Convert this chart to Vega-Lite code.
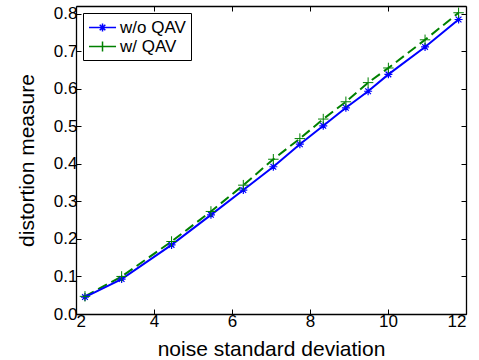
{
  "$schema": "https://vega.github.io/schema/vega-lite/v6.json",
  "width": 390,
  "height": 308,
  "autosize": "none",
  "padding": {"left": 76, "top": 6, "right": 13, "bottom": 46},
  "background": "white",
  "config": {
    "view": {"stroke": null},
    "font": "Liberation Sans",
    "axis": {
      "domainColor": "black",
      "domainWidth": 1.3,
      "tickColor": "black",
      "tickWidth": 1,
      "tickSize": -5,
      "grid": false,
      "labelFont": "Liberation Sans",
      "labelFontSize": 17,
      "labelColor": "black",
      "titleFont": "Liberation Sans",
      "titleFontSize": 21,
      "titleFontWeight": "normal",
      "titleColor": "black"
    }
  },
  "data": {
    "values": [
      {"series": "w/o QAV", "x": 2.23, "y": 0.045},
      {"series": "w/o QAV", "x": 3.17, "y": 0.093},
      {"series": "w/o QAV", "x": 4.45, "y": 0.184},
      {"series": "w/o QAV", "x": 5.46, "y": 0.264},
      {"series": "w/o QAV", "x": 6.29, "y": 0.330},
      {"series": "w/o QAV", "x": 7.06, "y": 0.392},
      {"series": "w/o QAV", "x": 7.74, "y": 0.452},
      {"series": "w/o QAV", "x": 8.34, "y": 0.501},
      {"series": "w/o QAV", "x": 8.92, "y": 0.549},
      {"series": "w/o QAV", "x": 9.49, "y": 0.593},
      {"series": "w/o QAV", "x": 10.01, "y": 0.638},
      {"series": "w/o QAV", "x": 10.95, "y": 0.711},
      {"series": "w/o QAV", "x": 11.81, "y": 0.784},
      {"series": "w/ QAV", "x": 2.23, "y": 0.047},
      {"series": "w/ QAV", "x": 3.17, "y": 0.100},
      {"series": "w/ QAV", "x": 4.45, "y": 0.193},
      {"series": "w/ QAV", "x": 5.46, "y": 0.273},
      {"series": "w/ QAV", "x": 6.29, "y": 0.343},
      {"series": "w/ QAV", "x": 7.06, "y": 0.412},
      {"series": "w/ QAV", "x": 7.74, "y": 0.467},
      {"series": "w/ QAV", "x": 8.34, "y": 0.519},
      {"series": "w/ QAV", "x": 8.92, "y": 0.565},
      {"series": "w/ QAV", "x": 9.49, "y": 0.616},
      {"series": "w/ QAV", "x": 10.01, "y": 0.655},
      {"series": "w/ QAV", "x": 10.95, "y": 0.730},
      {"series": "w/ QAV", "x": 11.81, "y": 0.802}
    ]
  },
  "resolve": {"axis": {"x": "independent", "y": "independent"}},
  "layer": [
    {
      "transform": [{"filter": "datum.series === 'w/ QAV'"}],
      "mark": {"type": "line", "strokeWidth": 2, "strokeDash": [10, 5]},
      "encoding": {
        "x": {"field": "x", "type": "quantitative", "scale": {"domain": [2, 12], "nice": false},
              "axis": {"orient": "bottom", "values": [2, 4, 6, 8, 10, 12], "labelPadding": 4, "title": "noise standard deviation", "titlePadding": 9}},
        "y": {"field": "y", "type": "quantitative", "scale": {"domain": [0, 0.82], "nice": false},
              "axis": {"orient": "left", "values": [0, 0.1, 0.2, 0.3, 0.4, 0.5, 0.6, 0.7, 0.8], "labelPadding": 4, "title": "distortion measure", "titlePadding": 16}},
        "color": {"field": "series", "type": "nominal",
                  "scale": {"domain": ["w/o QAV", "w/ QAV"], "range": ["#0000ff", "#008000"]},
                  "legend": {
                    "title": null,
                    "orient": "top-left",
                    "offset": 7,
                    "padding": 5,
                    "strokeColor": "black",
                    "fillColor": "white",
                    "cornerRadius": 0,
                    "symbolSize": 289,
                    "symbolStrokeWidth": 1.5,
                    "symbolType": "M-1,0L2.18,0",
                    "labelFont": "Liberation Sans",
                    "labelFontSize": 17,
                    "labelColor": "black",
                    "labelOffset": 13,
                    "rowPadding": 1,
                    "encode": {
                      "symbols": {
                        "update": {
                          "shape": {"signal": "datum.value === 'w/o QAV' ? 'M-1,0L2.18,0M0.59,-0.47L0.59,0.47M0.12,0L1.06,0M0.26,-0.33L0.92,0.33M0.26,0.33L0.92,-0.33' : 'M-1,0L2.18,0M0.59,-0.59L0.59,0.59'"},
                          "strokeDash": {"value": []},
                          "fill": {"value": "transparent"}
                        }
                      }
                    }
                  }}
      }
    },
    {
      "transform": [{"filter": "datum.series === 'w/o QAV'"}],
      "mark": {"type": "line", "strokeWidth": 2},
      "encoding": {
        "x": {"field": "x", "type": "quantitative", "axis": null},
        "y": {"field": "y", "type": "quantitative", "axis": null},
        "color": {"field": "series", "type": "nominal"}
      }
    },
    {
      "transform": [{"filter": "datum.series === 'w/o QAV'"}],
      "mark": {"type": "point", "filled": false, "strokeWidth": 1.2, "opacity": 1, "size": 100,
               "shape": "M-0.8,0L0.8,0M0,-0.8L0,0.8M-0.57,-0.57L0.57,0.57M-0.57,0.57L0.57,-0.57"},
      "encoding": {
        "x": {"field": "x", "type": "quantitative", "axis": null},
        "y": {"field": "y", "type": "quantitative", "axis": null},
        "color": {"field": "series", "type": "nominal"}
      }
    },
    {
      "transform": [{"filter": "datum.series === 'w/ QAV'"}],
      "mark": {"type": "point", "filled": false, "strokeWidth": 1, "opacity": 1, "size": 110,
               "shape": "M-1,0L1,0M0,-1L0,1"},
      "encoding": {
        "x": {"field": "x", "type": "quantitative", "axis": null},
        "y": {"field": "y", "type": "quantitative", "axis": null},
        "color": {"field": "series", "type": "nominal"}
      }
    },
    {
      "mark": {"type": "point", "opacity": 0},
      "encoding": {
        "x": {"field": "x", "type": "quantitative",
              "axis": {"orient": "top", "values": [2, 4, 6, 8, 10, 12], "labels": false, "title": null}},
        "y": {"field": "y", "type": "quantitative",
              "axis": {"orient": "right", "values": [0, 0.1, 0.2, 0.3, 0.4, 0.5, 0.6, 0.7, 0.8], "labels": false, "title": null}}
      }
    }
  ]
}
